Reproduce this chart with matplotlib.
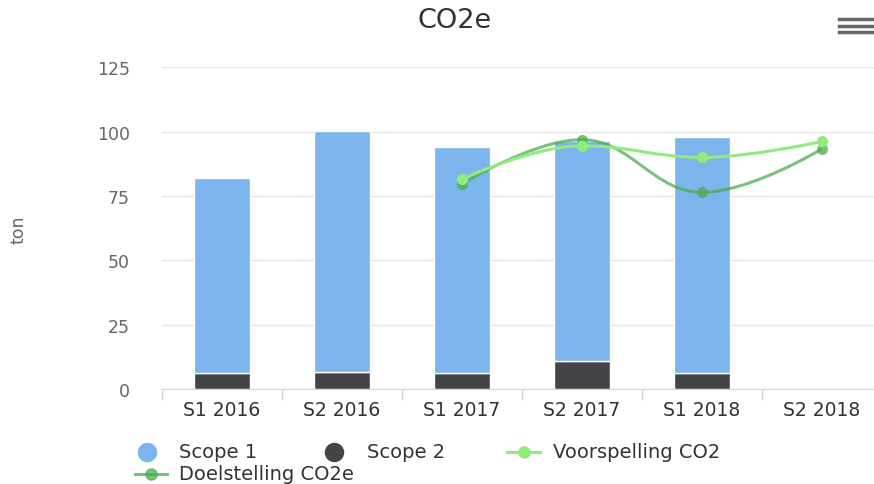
import numpy as np
import matplotlib.pyplot as plt
from matplotlib.path import Path
from matplotlib.patches import PathPatch
from matplotlib.lines import Line2D

categories = ["S1 2016", "S2 2016", "S1 2017", "S2 2017", "S1 2018", "S2 2018"]
scope1 = [75.7, 93.4, 87.7, 85.7, 91.8, 0]
scope2 = [6.2, 6.7, 6.2, 10.8, 6.2, 0]
voorspelling = [None, None, 81.6, 94.5, 90.0, 96.2]
doelstelling = [None, None, 79.7, 96.9, 76.4, 93.3]
y_ticks = [0, 25, 50, 75, 100, 125]

c_scope1 = "#7cb5ec"
c_scope2 = "#434348"
c_voor = "#90ed7d"
c_doel = "#4cae4f"


def spline_path(xs, ys, smoothing=1.5):
    # highcharts-style spline through the points (control points from neighbours)
    n = len(xs)
    left = [None] * n
    right = [None] * n
    denom = smoothing + 1
    for i in range(1, n - 1):
        lx, ly = xs[i - 1], ys[i - 1]
        nx, ny = xs[i + 1], ys[i + 1]
        px, py = xs[i], ys[i]
        lcx = (smoothing * px + lx) / denom
        lcy = (smoothing * py + ly) / denom
        rcx = (smoothing * px + nx) / denom
        rcy = (smoothing * py + ny) / denom
        corr = (rcy - lcy) * (rcx - px) / (rcx - lcx) + py - rcy
        lcy += corr
        rcy += corr
        if lcy > ly and lcy > py:
            lcy = max(ly, py)
            rcy = 2 * py - lcy
        elif lcy < ly and lcy < py:
            lcy = min(ly, py)
            rcy = 2 * py - lcy
        if rcy > ny and rcy > py:
            rcy = max(ny, py)
            lcy = 2 * py - rcy
        elif rcy < ny and rcy < py:
            rcy = min(ny, py)
            lcy = 2 * py - rcy
        left[i] = (lcx, lcy)
        right[i] = (rcx, rcy)
    verts = [(xs[0], ys[0])]
    codes = [Path.MOVETO]
    for i in range(1, n):
        c1 = right[i - 1] if right[i - 1] is not None else (xs[i - 1], ys[i - 1])
        c2 = left[i] if left[i] is not None else (xs[i], ys[i])
        verts += [c1, c2, (xs[i], ys[i])]
        codes += [Path.CURVE4] * 3
    return Path(verts, codes)


fig = plt.figure(figsize=(8.74, 4.85), dpi=100)
ax = fig.add_axes([162 / 874, 95 / 485, 720 / 874, 321.7 / 485])

x = np.arange(len(categories))
w = 0.47
ax.bar(x, scope2, w, color=c_scope2, edgecolor="white", linewidth=1, zorder=2)
ax.bar(x, scope1, w, bottom=scope2, color=c_scope1, edgecolor="white", linewidth=1, zorder=2)

for vals, col, alpha, z in [(doelstelling, c_doel, 0.75, 3), (voorspelling, c_voor, 1.0, 4)]:
    xs = [i for i, v in enumerate(vals) if v is not None]
    ys = [v for v in vals if v is not None]
    ax.add_patch(PathPatch(spline_path(xs, ys), facecolor="none", edgecolor=col,
                           linewidth=2.2, alpha=alpha, zorder=z))
    ax.plot(xs, ys, "o", color=col, markersize=8, alpha=alpha, zorder=z, markeredgewidth=0)

ax.set_xlim(-0.5, 5.5)
ax.set_ylim(0, 125)
ax.set_yticks(y_ticks)
ax.set_yticklabels([str(t) for t in y_ticks])
ax.yaxis.grid(True, color="#e6e6e6", linewidth=1)
ax.set_axisbelow(True)
ax.tick_params(axis="y", length=0, pad=23, labelsize=12.5, labelcolor="#666666")

ax.set_xticks(x)
ax.set_xticklabels(categories)
ax.set_xticks(np.arange(-0.5, 6, 1), minor=True)
ax.tick_params(axis="x", which="major", length=0, pad=8, labelsize=13.5, labelcolor="#333333")
ax.tick_params(axis="x", which="minor", length=8, width=1, color="#ccd6eb", direction="out")

for s in ["top", "right", "left"]:
    ax.spines[s].set_visible(False)
ax.spines["bottom"].set_color("#ccd6eb")

fig.text(18 / 874, 1 - 230 / 485, "ton", rotation=90, ha="center", va="center",
         fontsize=12.5, color="#666666")
fig.text(455 / 874, 1 - 21 / 485, "CO2e", ha="center", va="center", fontsize=19.5, color="#333333")

# menu icon
for yy in [20, 27, 33]:
    fig.add_artist(Line2D([839 / 874, 873 / 874], [1 - yy / 485, 1 - yy / 485],
                          color="#666666", linewidth=2.5))

# legend drawn by hand
leg_y1 = 1 - 453 / 485
leg_y2 = 1 - 475 / 485
fs_leg = 14
fig.add_artist(Line2D([147 / 874], [leg_y1], marker="o", markersize=13, color=c_scope1, linestyle="none"))
fig.text(179 / 874, leg_y1, "Scope 1", va="center", fontsize=fs_leg, color="#333333")
fig.add_artist(Line2D([334 / 874], [leg_y1], marker="o", markersize=13, color=c_scope2, linestyle="none"))
fig.text(367 / 874, leg_y1, "Scope 2", va="center", fontsize=fs_leg, color="#333333")
fig.add_artist(Line2D([507 / 874, 540 / 874], [leg_y1, leg_y1], color=c_voor, linewidth=2.2))
fig.add_artist(Line2D([524 / 874], [leg_y1], marker="o", markersize=8, color=c_voor, linestyle="none"))
fig.text(553 / 874, leg_y1, "Voorspelling CO2", va="center", fontsize=fs_leg, color="#333333")
fig.add_artist(Line2D([135 / 874, 167 / 874], [leg_y2, leg_y2], color=c_doel, linewidth=2.2, alpha=0.75))
fig.add_artist(Line2D([151 / 874], [leg_y2], marker="o", markersize=8, color=c_doel,
                      linestyle="none", alpha=0.75))
fig.text(179 / 874, leg_y2, "Doelstelling CO2e", va="center", fontsize=fs_leg, color="#333333")

fig.savefig("out.png", dpi=100)
